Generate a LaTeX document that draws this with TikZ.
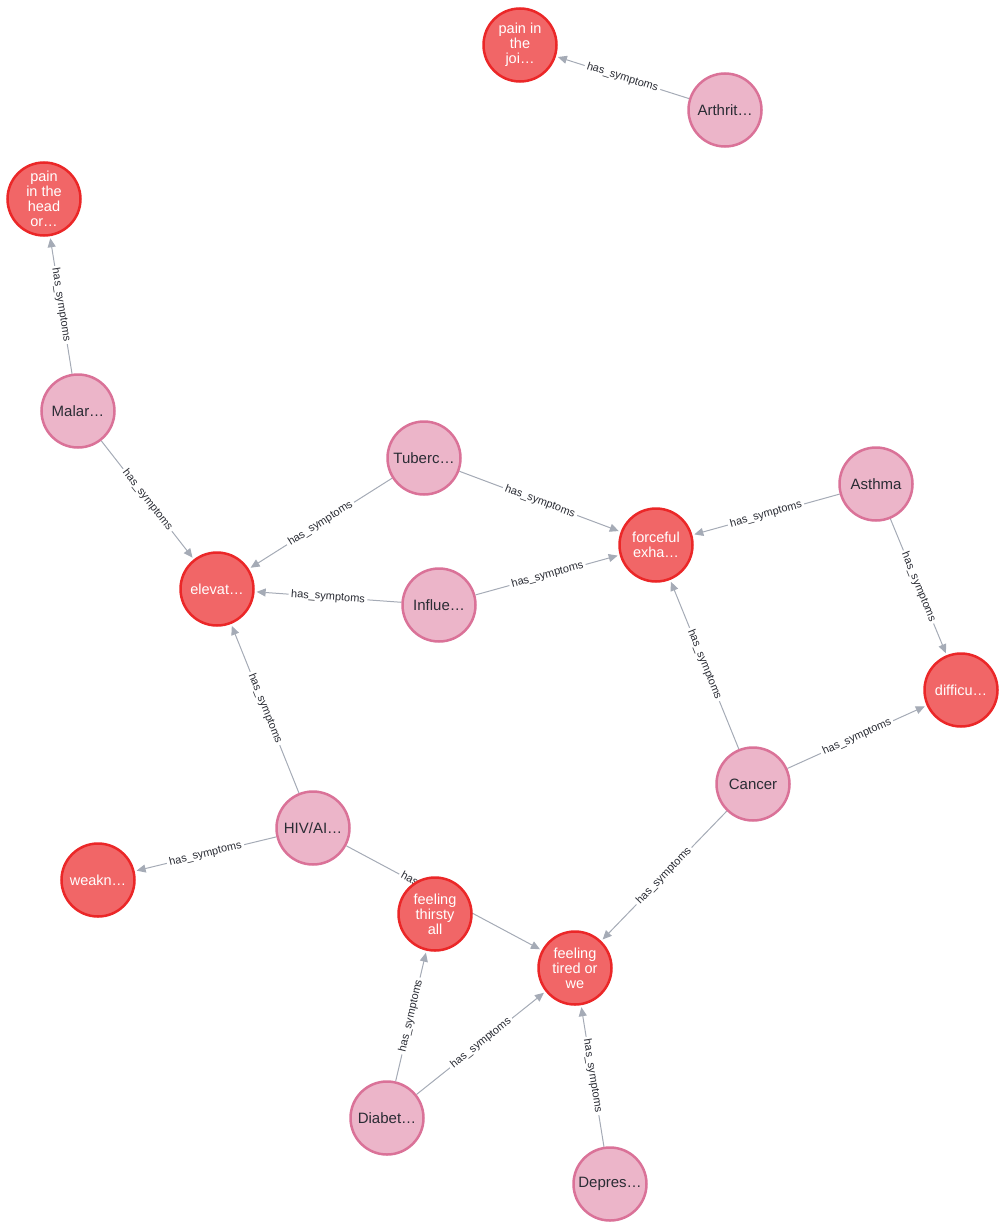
\documentclass[tikz,border=0pt]{standalone}
\usepackage{fontspec}
\setmainfont{Liberation Sans}
\usetikzlibrary{arrows.meta}
\definecolor{symfill}{HTML}{F16667}
\definecolor{symdraw}{HTML}{EB2728}
\definecolor{disfill}{HTML}{ECB5C9}
\definecolor{disdraw}{HTML}{DA7298}
\definecolor{edgecol}{HTML}{A5ABB6}
\definecolor{distext}{HTML}{2A2C34}
\pgfdeclarelayer{bg}
\pgfsetlayers{bg,main}
\begin{document}
\begin{tikzpicture}[x=1pt,y=-1pt,
 sym/.style={circle, fill=symfill, draw=symdraw, line width=2.5pt, minimum size=73pt, inner sep=0pt, text=white, font=\fontsize{14.5}{15}\selectfont, align=center},
 dis/.style={circle, fill=disfill, draw=disdraw, line width=2.5pt, minimum size=73pt, inner sep=0pt, text=distext, font=\fontsize{15}{15}\selectfont, align=center},
 rel/.style={draw=edgecol, line width=1pt, -{Triangle[length=9pt,width=8pt]}, shorten >=2pt},
 lbl/.style={sloped, fill=white, inner sep=2.5pt, text=distext, font=\fontsize{11}{12}\selectfont, midway}
]
\useasboundingbox (0,0) rectangle (1005,1228);
% symptom nodes
\node[sym] (joi) at (520,45) {pain in\\the\\joi…};
\node[sym] (head) at (44,199) {pain\\in the\\head\\or…};
\node[sym] (forc) at (656,545) {forceful\\exha…};
\node[sym] (elev) at (217,589) {elevat…};
\node[sym] (diff) at (961,690) {difficu…};
\node[sym] (weak) at (98,880) {weakn…};
\node[sym] (thir) at (435,914) {feeling\\thirsty\\all};
\node[sym] (tire) at (575,968) {feeling\\tired or\\we};
% disease nodes
\node[dis] (arth) at (725,110) {Arthrit…};
\node[dis] (mala) at (78,411) {Malar…};
\node[dis] (tube) at (424,458) {Tuberc…};
\node[dis] (asth) at (876,484) {Asthma};
\node[dis] (infl) at (439,605) {Influe…};
\node[dis] (canc) at (753,784) {Cancer};
\node[dis] (hiv) at (313,828) {HIV/AI…};
\node[dis] (diab) at (387,1118) {Diabet…};
\node[dis] (depr) at (610,1184) {Depres…};
\begin{pgfonlayer}{bg}
\draw[rel] (arth) -- node[lbl] {has\_symptoms} (joi);
\draw[rel] (mala) -- node[lbl] {has\_symptoms} (head);
\draw[rel] (mala) -- node[lbl] {has\_symptoms} (elev);
\draw[rel] (tube) -- node[lbl] {has\_symptoms} (elev);
\draw[rel] (tube) -- node[lbl] {has\_symptoms} (forc);
\draw[rel] (infl) -- node[lbl] {has\_symptoms} (elev);
\draw[rel] (infl) -- node[lbl] {has\_symptoms} (forc);
\draw[rel] (asth) -- node[lbl] {has\_symptoms} (forc);
\draw[rel] (asth) -- node[lbl] {has\_symptoms} (diff);
\draw[rel] (canc) -- node[lbl] {has\_symptoms} (forc);
\draw[rel] (canc) -- node[lbl] {has\_symptoms} (diff);
\draw[rel] (canc) -- node[lbl] {has\_symptoms} (tire);
\draw[rel] (hiv) -- node[lbl] {has\_symptoms} (elev);
\draw[rel] (hiv) -- node[lbl] {has\_symptoms} (weak);
\draw[rel] (hiv) -- node[lbl, pos=0.45] {has\_symptoms} (tire);
\draw[rel] (diab) -- node[lbl] {has\_symptoms} (thir);
\draw[rel] (diab) -- node[lbl] {has\_symptoms} (tire);
\draw[rel] (depr) -- node[lbl] {has\_symptoms} (tire);
\end{pgfonlayer}
\end{tikzpicture}
\end{document}
